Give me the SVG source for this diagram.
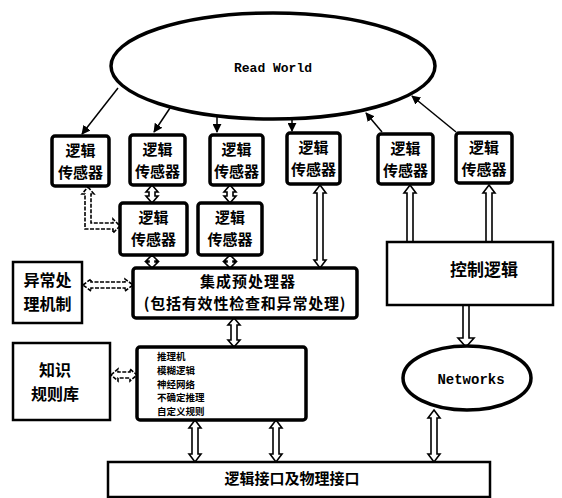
<svg xmlns="http://www.w3.org/2000/svg" width="562" height="498" viewBox="0 0 562 498">
<defs>
<style>
.bx{fill:#fff;stroke:#000;stroke-width:3.5}
.bt{fill:#fff;stroke:#000;stroke-width:2.5}
.cn{font-family:"Noto Sans CJK SC","Noto Sans CJK JP",sans-serif;font-weight:bold;fill:#000;text-anchor:middle}
.s15{font-size:15px}
.s16{font-size:16px}
.s9{font-size:9.5px;text-anchor:start}
.mono{font-family:"Liberation Mono","DejaVu Sans Mono",monospace;font-weight:bold;fill:#000;text-anchor:middle}
.thin{stroke:#000;stroke-width:1.5;fill:none}
.ba{fill:#fff;stroke:#000;stroke-width:1.6;stroke-linejoin:miter}
</style>
<marker id="ah" viewBox="0 0 10 10" refX="9" refY="5" markerWidth="9" markerHeight="9" markerUnits="userSpaceOnUse" orient="auto">
<path d="M0,0 L10,5 L0,10 Z" fill="#000"/>
</marker>
</defs>
<rect width="562" height="498" fill="#fff"/>

<g id="connectors">
<line class="thin" x1="118" y1="88" x2="82" y2="134" marker-end="url(#ah)"/>
<line class="thin" x1="170" y1="108" x2="154" y2="132" marker-end="url(#ah)"/>
<line class="thin" x1="217" y1="117" x2="217" y2="132" marker-end="url(#ah)"/>
<line class="thin" x1="292" y1="120" x2="292" y2="131" marker-end="url(#ah)"/>
<line class="thin" x1="382" y1="132" x2="366" y2="113" marker-end="url(#ah)"/>
<line class="thin" x1="456" y1="132" x2="412" y2="96" marker-end="url(#ah)"/>
<path class="ba" d="M152,185 L158,192 L155,192 L155,196 L158,196 L152,203 L146,196 L149,196 L149,192 L146,192 Z"/>
<path class="ba" d="M230,185 L236,192 L233,192 L233,196 L236,196 L230,203 L224,196 L227,196 L227,192 L224,192 Z"/>
<path class="ba" stroke-dasharray="4 1.5" d="M88,187 L94,194 L91,194 L91,223 L113,223 L113,219 L120,226 L113,233 L113,229 L85,229 L85,194 L82,194 Z"/>
<path class="ba" d="M152,255 L158,261 L155,261 L155,262 L158,262 L152,268 L146,262 L149,262 L149,261 L146,261 Z"/>
<path class="ba" d="M230,255 L236,261 L233,261 L233,262 L236,262 L230,268 L224,262 L227,262 L227,261 L224,261 Z"/>
<path class="ba" d="M320,185 L326,193 L323,193 L323,260 L326,260 L320,268 L314,260 L317,260 L317,193 L314,193 Z"/>
<path class="ba" d="M410,185 L416,193 L413,193 L413,242 L407,242 L407,193 L404,193 Z"/>
<path class="ba" d="M489,185 L495,193 L492,193 L492,242 L486,242 L486,193 L483,193 Z"/>
<path class="ba" stroke-dasharray="4 1.5" d="M83,285 L91,279 L91,282 L125,282 L125,279 L133,285 L125,291 L125,288 L91,288 L91,291 Z"/>
<path class="ba" d="M234,318 L240,325 L237,325 L237,340 L240,340 L234,347 L228,340 L231,340 L231,325 L228,325 Z"/>
<path class="ba" stroke-dasharray="4 1.5" d="M111,375 L118,369 L118,372 L130,372 L130,369 L137,375 L130,381 L130,378 L118,378 L118,381 Z"/>
<path class="ba" d="M463,305 L469,305 L469,338 L474,338 L466,347 L458,338 L463,338 Z"/>
<path class="ba" d="M195,420 L201,428 L198,428 L198,454 L201,454 L195,462 L189,454 L192,454 L192,428 L189,428 Z"/>
<path class="ba" d="M276,420 L282,428 L279,428 L279,454 L282,454 L276,462 L270,454 L273,454 L273,428 L270,428 Z"/>
<path class="ba" d="M434,410 L440,418 L437,418 L437,454 L440,454 L434,462 L428,454 L431,454 L431,418 L428,418 Z"/>
</g>

<g id="realworld">
<ellipse cx="273" cy="66" rx="162" ry="53" fill="#fff" stroke="#000" stroke-width="3.5"/>
<text class="mono" x="273" y="72" font-size="13">Read World</text>
</g>

<g id="sensor1"><rect class="bx" x="52" y="136" width="57" height="50" rx="3"/>
<text class="cn s15" x="80.5" y="156">逻辑</text><text class="cn s15" x="80.5" y="178">传感器</text></g>
<g id="sensor2"><rect class="bx" x="130" y="135" width="55" height="50" rx="3"/>
<text class="cn s15" x="157.5" y="155">逻辑</text><text class="cn s15" x="157.5" y="177">传感器</text></g>
<g id="sensor3"><rect class="bx" x="210" y="135" width="53" height="50" rx="3"/>
<text class="cn s15" x="236.5" y="155">逻辑</text><text class="cn s15" x="236.5" y="177">传感器</text></g>
<g id="sensor4"><rect class="bx" x="287" y="133" width="53" height="51" rx="3"/>
<text class="cn s15" x="313.5" y="153">逻辑</text><text class="cn s15" x="313.5" y="175">传感器</text></g>
<g id="sensor5"><rect class="bx" x="378" y="134" width="55" height="50" rx="3"/>
<text class="cn s15" x="405.5" y="154">逻辑</text><text class="cn s15" x="405.5" y="176">传感器</text></g>
<g id="sensor6"><rect class="bx" x="456" y="133" width="56" height="50" rx="3"/>
<text class="cn s15" x="484" y="153">逻辑</text><text class="cn s15" x="484" y="175">传感器</text></g>
<g id="sensor7"><rect class="bx" x="120" y="203" width="67" height="52" rx="3"/>
<text class="cn s15" x="153.5" y="223">逻辑</text><text class="cn s15" x="153.5" y="245">传感器</text></g>
<g id="sensor8"><rect class="bx" x="198" y="203" width="64" height="52" rx="3"/>
<text class="cn s15" x="230" y="223">逻辑</text><text class="cn s15" x="230" y="245">传感器</text></g>

<g id="exception"><rect class="bt" x="13" y="262" width="69" height="61"/>
<text class="cn s16" x="47.5" y="286">异常处</text><text class="cn s16" x="47.5" y="309.5">理机制</text></g>

<g id="integration"><rect class="bx" x="133" y="268" width="224" height="50" rx="3"/>
<text class="cn s15" x="248" y="287" letter-spacing="1">集成预处理器</text>
<text class="cn s15" x="245" y="309" letter-spacing="0.8">(包括有效性检查和异常处理)</text></g>

<g id="control"><rect class="bt" x="387" y="242" width="166" height="63"/>
<text class="cn" font-size="17" x="484" y="276">控制逻辑</text></g>

<g id="knowledge"><rect class="bt" x="13" y="343" width="97" height="77"/>
<text class="cn s16" x="55" y="376">知识</text><text class="cn s16" x="55" y="400">规则库</text></g>

<g id="reasoning"><rect class="bx" x="137" y="347" width="169" height="73" rx="3"/>
<text class="cn s9" x="157" y="360">推理机</text>
<text class="cn s9" x="157" y="373.8">模糊逻辑</text>
<text class="cn s9" x="157" y="387.6">神经网络</text>
<text class="cn s9" x="157" y="401.4">不确定推理</text>
<text class="cn s9" x="157" y="415.2">自定义规则</text>
</g>

<g id="networks">
<ellipse cx="467" cy="378" rx="64" ry="32" fill="#fff" stroke="#000" stroke-width="3.5"/>
<text class="mono" x="471" y="384" font-size="14">Networks</text>
</g>

<g id="interface"><rect class="bt" x="108" y="462" width="382" height="35"/>
<text class="cn" font-size="15" x="292" y="484">逻辑接口及物理接口</text></g>
</svg>
